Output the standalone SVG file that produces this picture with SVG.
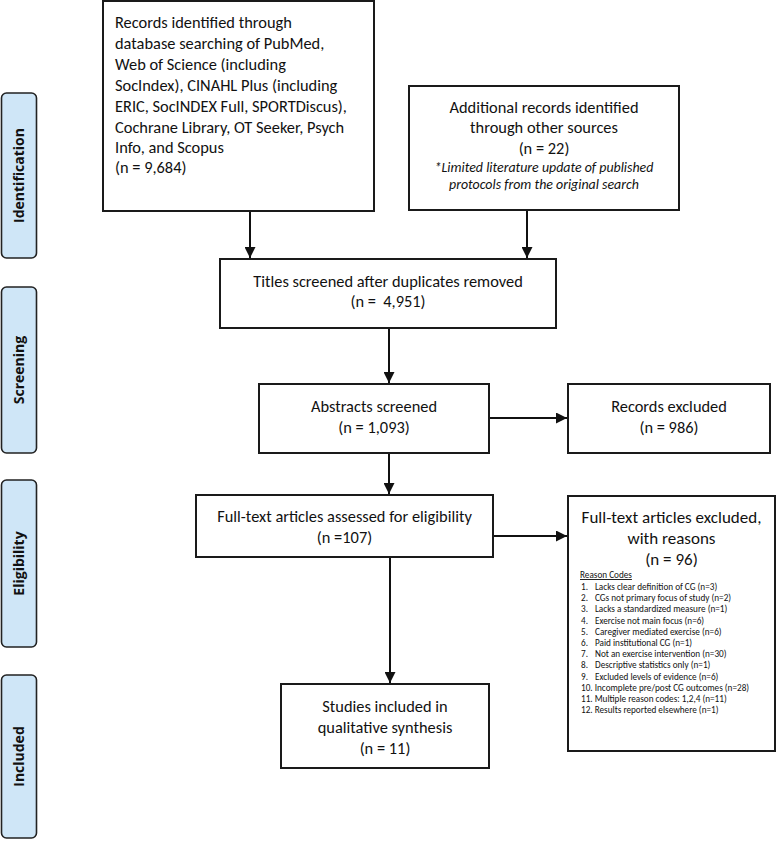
<svg xmlns="http://www.w3.org/2000/svg" width="777" height="842" viewBox="0 0 777 842">
<style>
  .box { fill: #ffffff; stroke: #1a1a1a; stroke-width: 2; }
  .phase { fill: #cfe6f7; stroke: #222222; stroke-width: 1.6; }
  .t { font-family: Carlito, Lato, "Liberation Sans", sans-serif; font-size: 16.4px; fill: #111111; }
  .c { text-anchor: middle; }
  .it { font-style: italic; font-size: 13.9px; }
  .big { font-size: 17px; }
  .small { font-size: 9.2px; }
  .ph { font-family: "Open Sans", "Noto Sans", "Liberation Sans", sans-serif; font-weight: bold; font-size: 14px; fill: #111111; text-anchor: middle; }
  .conn line { stroke: #111111; stroke-width: 2; fill: none; }
</style>
<defs>
  <marker id="arr" markerUnits="userSpaceOnUse" markerWidth="11" markerHeight="11" viewBox="0 0 10 10" refX="10" refY="5" orient="auto">
    <path d="M0,0 L10,5 L0,10 z" fill="#111111"/>
  </marker>
</defs>
<rect width="777" height="842" fill="#ffffff"/>

<g id="phase-identification">
  <rect class="phase" x="1.5" y="93" width="35" height="165" rx="5"/>
  <text class="ph" transform="translate(24,175.5) rotate(-90)">Identification</text>
</g>
<g id="phase-screening">
  <rect class="phase" x="1.5" y="287" width="35" height="166" rx="5"/>
  <text class="ph" transform="translate(24,370) rotate(-90)">Screening</text>
</g>
<g id="phase-eligibility">
  <rect class="phase" x="1.5" y="480" width="35" height="167" rx="5"/>
  <text class="ph" transform="translate(24,563.5) rotate(-90)">Eligibility</text>
</g>
<g id="phase-included">
  <rect class="phase" x="1.5" y="675" width="35" height="163" rx="5"/>
  <text class="ph" transform="translate(24,756.5) rotate(-90)">Included</text>
</g>

<g id="records-database">
  <rect class="box" x="103" y="1" width="271" height="210"/>
  <text class="t" x="115" y="28">Records identified through</text>
  <text class="t" x="115" y="49">database searching of PubMed,</text>
  <text class="t" x="115" y="70">Web of Science (including</text>
  <text class="t" x="115" y="91">SocIndex), CINAHL Plus (including</text>
  <text class="t" x="115" y="112">ERIC, SocINDEX Full, SPORTDiscus),</text>
  <text class="t" x="115" y="133">Cochrane Library, OT Seeker, Psych</text>
  <text class="t" x="115" y="153">Info, and Scopus</text>
  <text class="t" x="115" y="173">(n = 9,684)</text>
</g>

<g id="records-other">
  <rect class="box" x="409" y="86" width="270" height="124"/>
  <text class="t c" x="544" y="113">Additional records identified</text>
  <text class="t c" x="544" y="133">through other sources</text>
  <text class="t c" x="544" y="154">(n = 22)</text>
  <text class="t c it" x="544" y="172">*Limited literature update of published</text>
  <text class="t c it" x="544" y="189">protocols from the original search</text>
</g>

<g id="titles-screened">
  <rect class="box" x="220" y="259" width="336" height="69"/>
  <text class="t c" x="388" y="287">Titles screened after duplicates removed</text>
  <text class="t c" x="388" y="307" xml:space="preserve">(n =  4,951)</text>
</g>

<g id="abstracts-screened">
  <rect class="box" x="259" y="384" width="230" height="69"/>
  <text class="t c" x="374" y="412">Abstracts screened</text>
  <text class="t c" x="374" y="433">(n = 1,093)</text>
</g>

<g id="records-excluded">
  <rect class="box" x="568" y="384" width="202" height="69"/>
  <text class="t c" x="669" y="412">Records excluded</text>
  <text class="t c" x="669" y="433">(n = 986)</text>
</g>

<g id="fulltext-assessed">
  <rect class="box" x="196" y="495" width="297" height="62"/>
  <text class="t c" x="344.5" y="522">Full-text articles assessed for eligibility</text>
  <text class="t c" x="344.5" y="543">(n =107)</text>
</g>

<g id="fulltext-excluded">
  <rect class="box" x="568" y="496" width="207" height="255"/>
  <text class="t c big" x="671.5" y="523">Full-text articles excluded,</text>
  <text class="t c big" x="671.5" y="544">with reasons</text>
  <text class="t c big" x="671.5" y="565">(n = 96)</text>
  <text class="t small" x="580" y="578" text-decoration="underline">Reason Codes</text>
  <g class="t small">
    <text x="581" y="590">1.</text><text x="595" y="590">Lacks clear definition of CG (n=3)</text>
    <text x="581" y="601.2">2.</text><text x="595" y="601.2">CGs not primary focus of study (n=2)</text>
    <text x="581" y="612.4">3.</text><text x="595" y="612.4">Lacks a standardized measure (n=1)</text>
    <text x="581" y="623.6">4.</text><text x="595" y="623.6">Exercise not main focus (n=6)</text>
    <text x="581" y="634.8">5.</text><text x="595" y="634.8">Caregiver mediated exercise (n=6)</text>
    <text x="581" y="646">6.</text><text x="595" y="646">Paid institutional CG (n=1)</text>
    <text x="581" y="657.2">7.</text><text x="595" y="657.2">Not an exercise intervention (n=30)</text>
    <text x="581" y="668.4">8.</text><text x="595" y="668.4">Descriptive statistics only (n=1)</text>
    <text x="581" y="679.6">9.</text><text x="595" y="679.6">Excluded levels of evidence (n=6)</text>
    <text x="581" y="690.8">10. Incomplete pre/post CG outcomes (n=28)</text>
    <text x="581" y="702">11. Multiple reason codes: 1,2,4 (n=11)</text>
    <text x="581" y="713.2">12. Results reported elsewhere (n=1)</text>
  </g>
</g>

<g id="studies-included">
  <rect class="box" x="281" y="684" width="208" height="84"/>
  <text class="t c" x="385" y="712">Studies included in</text>
  <text class="t c" x="385" y="733">qualitative synthesis</text>
  <text class="t c" x="385" y="754">(n = 11)</text>
</g>

<g id="connectors" class="conn">
  <line x1="250" y1="212" x2="250" y2="258" marker-end="url(#arr)"/>
  <line x1="527" y1="211" x2="527" y2="258" marker-end="url(#arr)"/>
  <line x1="389" y1="329" x2="389" y2="383" marker-end="url(#arr)"/>
  <line x1="490" y1="418" x2="567" y2="418" marker-end="url(#arr)"/>
  <line x1="389" y1="454" x2="389" y2="494" marker-end="url(#arr)"/>
  <line x1="494" y1="536" x2="567" y2="536" marker-end="url(#arr)"/>
  <line x1="390" y1="558" x2="390" y2="683" marker-end="url(#arr)"/>
</g>
</svg>
